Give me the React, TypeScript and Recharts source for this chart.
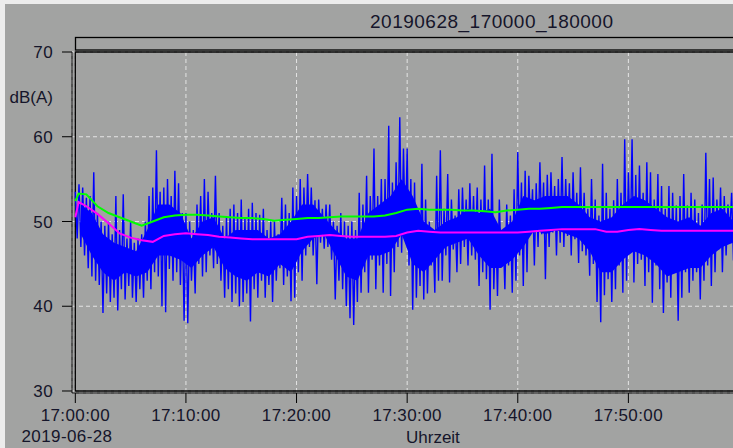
import React from "react";
import { ComposedChart, Line, Area, XAxis, YAxis, CartesianGrid, ReferenceArea } from "recharts";

const chartTitle = "20190628_170000_180000";
const dateLabel = "2019-06-28";
const yUnit = "dB(A)";
const xName = "Uhrzeit";
const xTicks = [0, 600, 1200, 1800, 2400, 3000];
const yTicks = [30, 40, 50, 60, 70];

// Blue: 10-second samples from 17:00:00 (peaks and troughs), one array per 10 minutes
const blue1700 = [
  53.5, 48, 54.4, 47, 54, 46,
  52.8, 44.5, 53, 43.5, 55.8, 43,
  51, 42.5, 50, 39.2, 49.5, 41.5,
  50, 40.5, 48.5, 41, 53, 39.5,
  49, 42, 53.2, 40.8, 48, 42.4,
  50, 41, 47.5, 40.5, 48, 42,
  48.5, 41, 50, 43, 53, 42,
  54, 44, 58.4, 43.5, 53.5, 40,
  54, 39.3, 55, 44.4, 53, 43,
  56, 44, 54.5, 42.5, 51, 38.3,
];
const blue1710 = [
  51, 38, 50, 43, 49, 41.5,
  52, 45, 53, 43.5, 55, 44,
  53.5, 46, 51, 44.5, 55.4, 45,
  51, 43, 49.5, 41, 50.5, 42,
  51.5, 40.5, 52, 41.5, 51, 40,
  52.6, 40.5, 50.5, 41.5, 51.5, 38.2,
  52.2, 42, 51, 41, 50.8, 43,
  51.5, 41, 49, 42.5, 50, 40.5,
  50, 43, 48.5, 44.5, 52.8, 42.5,
  52, 43.5, 51, 40.6, 54, 41,
];
const blue1720 = [
  53, 44, 55, 43, 54, 46,
  55.6, 47, 54, 46, 52.5, 42.6,
  52.6, 47.5, 51.5, 46.8, 52, 47,
  52, 45.5, 50, 40.8, 49.5, 43,
  51, 42, 50, 40, 49.5, 38.6,
  50, 37.8, 49, 40.5, 53.4, 41.6,
  52, 44, 55.4, 41.6, 53, 45.5,
  58.6, 42, 53, 44.8, 55, 41.6,
  55, 45, 61.3, 41.2, 54.6, 44,
  57, 47, 62.3, 46.3, 58.6, 47.9,
];
const blue1730 = [
  58.6, 44.8, 55, 39.6, 54.6, 41,
  51, 42.4, 56.8, 40.8, 52.6, 41.5,
  50, 44.8, 49, 41.6, 55.4, 43,
  58.4, 43, 51.5, 46, 55.6, 42.8,
  52.6, 46.7, 50.7, 44, 53.8, 45,
  54, 47, 52.6, 44.8, 54.5, 46,
  53, 45.5, 54, 42.4, 52.6, 44,
  56.6, 43.2, 52.6, 39.6, 58, 42,
  50, 41.2, 52.6, 44.8, 49, 42,
  52, 44.8, 50.7, 41.6, 53.8, 43,
];
const blue1740 = [
  58.2, 46, 54.6, 42.4, 56, 44,
  55.4, 48.7, 53.8, 44.8, 54.5, 47,
  57, 48.5, 54.6, 43.2, 55.5, 47,
  55.8, 48.7, 54.2, 46, 55, 47.5,
  57.6, 47, 55, 48.3, 54.5, 46,
  55.8, 47.9, 53.4, 45.1, 56.4, 46.5,
  53.4, 46, 51.5, 43.6, 55, 45,
  52.6, 40.5, 50.7, 38.1, 56.8, 41.3,
  53.4, 43.2, 51.5, 40.5, 52.5, 42,
  55, 44.8, 53.4, 41.6, 59.7, 43,
];
const blue1750 = [
  55.8, 46.7, 59.7, 42.8, 55.5, 45,
  56.6, 45.5, 53.4, 42.4, 57, 44,
  55.8, 40.4, 52.6, 44.8, 55.6, 42,
  54.2, 39.2, 51.5, 42.8, 54.2, 41,
  53.4, 44.8, 51.9, 38.3, 53, 41,
  55.6, 44, 51.9, 41.6, 53.4, 43,
  52.6, 44, 51, 40.8, 52, 43,
  58.1, 44.8, 55, 42.4, 55.2, 44,
  52.6, 46.7, 54, 44, 53, 46,
  52, 48.5, 53.4, 45.4, 51, 47,
];

// Dense core of the blue trace, per minute (low / high)
const coreLow = [48.5, 46, 44, 43, 44, 43.5, 44, 46, 46, 45.5,
  44.5, 46, 47, 44.5, 43.5, 43, 44, 43.5, 45, 44,
  46.5, 48, 48.5, 46, 43.5, 43, 46, 46, 46.5, 48.5,
  45, 44, 45.5, 47, 47.5, 48, 46, 44.5, 44.5, 45.5,
  47, 49, 48.5, 49, 48.5, 48, 46.5, 44, 44, 45.5,
  46.5, 46, 45, 43.5, 44, 44.5, 44.5, 46, 47, 47.5];
const coreHigh = [52, 51, 48.5, 47.5, 47, 46.5, 49, 52, 52, 51,
  48, 50, 50.5, 48, 49, 49, 49, 48, 48.5, 50,
  52, 52, 50.5, 49, 48, 48, 51, 52, 53, 55,
  53, 50, 49, 50, 50.5, 51.5, 51, 51.5, 49, 50,
  53, 52.5, 53, 53, 53, 52, 50.5, 50, 50.5, 52,
  53, 52.5, 51.5, 50.5, 50, 50.5, 49.5, 51, 51.5, 50];

// Running levels (minutes after 17:00)
const levelMinutes = [0, 0.3, 1, 2, 3, 4, 5, 6, 7, 8, 9, 10, 11, 12, 13, 14, 15, 16, 17, 18, 19, 20,
  21, 22, 23, 24, 25, 26, 27, 28, 29, 30, 31, 32, 33, 34, 35, 36, 37, 38, 39, 40,
  41, 42, 43, 44, 45, 46, 47, 48, 49, 50, 51, 52, 53, 54, 55, 56, 57, 58, 59, 60];
const greenLevel = [52.4, 53.3, 53.2, 51.8, 51.0, 50.5, 50.0, 49.5, 50.0, 50.5, 50.7, 50.8, 50.8, 50.7, 50.6, 50.5, 50.4, 50.4, 50.3, 50.1, 50.2, 50.3,
  50.4, 50.4, 50.5, 50.6, 50.6, 50.6, 50.6, 50.7, 51.0, 51.4, 51.5, 51.4, 51.4, 51.4, 51.3, 51.3, 51.2, 51.1, 51.3, 51.4,
  51.5, 51.5, 51.6, 51.7, 51.7, 51.7, 51.7, 51.7, 51.7, 51.7, 51.7, 51.7, 51.7, 51.7, 51.7, 51.7, 51.7, 51.7, 51.7, 51.7];
const magentaLevel = [50.5, 52.3, 51.8, 50.9, 49.8, 48.6, 48.1, 47.8, 47.6, 48.3, 48.5, 48.6, 48.5, 48.4, 48.2, 48.1, 48.0, 47.9, 47.9, 47.9, 47.9, 47.9,
  48.2, 48.3, 48.4, 48.3, 48.2, 48.2, 48.2, 48.2, 48.3, 48.7, 48.9, 48.8, 48.7, 48.7, 48.7, 48.7, 48.7, 48.7, 48.7, 48.7,
  48.8, 48.9, 49.0, 49.1, 49.1, 49.1, 49.1, 48.8, 48.8, 49.0, 49.1, 49.0, 48.9, 48.9, 48.9, 48.9, 48.9, 48.9, 48.9, 48.9];

const blueAll = [...blue1700, ...blue1710, ...blue1720, ...blue1730, ...blue1740, ...blue1750];
const blueData = blueAll.map((v, i) => ({ t: i * 10, v }));
const coreData = coreLow.map((lo, i) => ({ t: i * 60 + 30, band: [lo, coreHigh[i]] }));
const levelData = levelMinutes.map((m, i) => ({ t: m * 60, g: greenLevel[i], p: magentaLevel[i] }));

const FONT = "'Liberation Sans', Arial, sans-serif";
const TXT = "#15152a";
const BG = "#a2a3a2";

const fmtTime = (s: number) => {
  const h = 17 + Math.floor(s / 3600);
  const m = Math.floor((s % 3600) / 60);
  const sec = s % 60;
  const p = (n: number) => String(n).padStart(2, "0");
  return `${h}:${p(m)}:${p(sec)}`;
};

const TimeTick = (props: any) => {
  const { x, y, payload } = props;
  return (
    <text x={x} y={y} dy="0.71em" textAnchor="middle" fill={TXT} fontSize={17} fontFamily={FONT} letterSpacing={0.4}>
      {fmtTime(payload.value)}
    </text>
  );
};

export default function App() {
  return (
    <div style={{ position: "absolute", left: 0, top: 0, width: 733, height: 448, overflow: "hidden", background: BG }}>
      <ComposedChart width={780} height={448} data={blueData} margin={{ top: 52, right: 41, bottom: 0, left: 0 }}>
        <CartesianGrid stroke="#e4e4e4" strokeDasharray="4 3" strokeWidth={1} />
        <XAxis
          type="number"
          dataKey="t"
          domain={[-18, 3600]}
          allowDataOverflow
          ticks={xTicks}
          height={55}
          tickSize={10}
          tickMargin={6}
          stroke="#000"
          tick={<TimeTick />}
          interval={0}
        />
        <YAxis
          type="number"
          domain={[29.764, 70]}
          allowDataOverflow
          ticks={yTicks}
          width={72}
          tickSize={10}
          tickMargin={9}
          stroke="#000"
          interval={0}
          tick={{ fill: TXT, fontSize: 17, fontFamily: FONT, letterSpacing: 0.4 }}
        />
        <Area data={coreData} dataKey="band" stroke="none" fill="#0000ff" fillOpacity={1} type="linear" isAnimationActive={false} />
        <Line data={blueData} dataKey="v" stroke="#0000ff" strokeWidth={1.4} dot={false} isAnimationActive={false} type="linear" />
        <Line data={levelData} dataKey="g" stroke="#00ff00" strokeWidth={2} dot={false} isAnimationActive={false} type="linear" />
        <Line data={levelData} dataKey="p" stroke="#ff00ff" strokeWidth={2} dot={false} isAnimationActive={false} type="linear" />
        <ReferenceArea x1={0} x2={3600} y1={30} y2={70} fill="none" fillOpacity={0} stroke="#000" strokeWidth={1.3} ifOverflow="visible" />
      </ComposedChart>
      <svg width={733} height={448} style={{ position: "absolute", left: 0, top: 0, pointerEvents: "none" }}>
        <rect x={0} y={0} width={733} height={4} fill="#ececec" />
        <rect x={0} y={0} width={5} height={448} fill="#ececec" />
        <rect x={75.5} y={37.5} width={700} height={12.5} fill="none" stroke="#000" strokeWidth={1.3} />
        <text x={370} y={28.3} fill={TXT} fontSize={19} fontFamily={FONT} letterSpacing={0.5}>{chartTitle}</text>
        <text x={53} y={102.5} textAnchor="end" fill={TXT} fontSize={17} fontFamily={FONT}>{yUnit}</text>
        <text x={67} y={441.7} textAnchor="middle" fill={TXT} fontSize={17} fontFamily={FONT} letterSpacing={0.4}>{dateLabel}</text>
        <text x={406} y={442.5} fill={TXT} fontSize={17} fontFamily={FONT}>{xName}</text>
      </svg>
    </div>
  );
}
